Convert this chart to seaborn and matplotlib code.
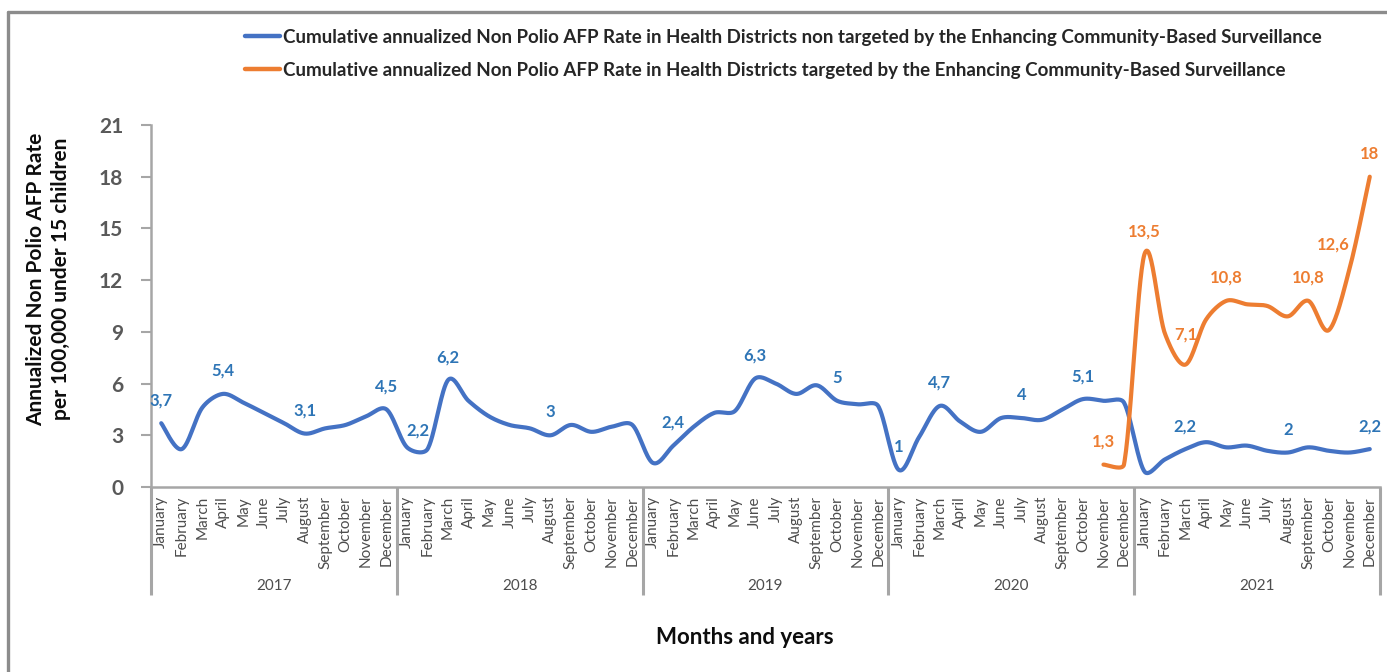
import numpy as np
import pandas as pd
import matplotlib
matplotlib.use("Agg")
import matplotlib.pyplot as plt
from matplotlib.lines import Line2D
import seaborn as sns

# ---------------- data ----------------
years = ["2017", "2018", "2019", "2020", "2021"]
months = ["January", "February", "March", "April", "May", "June", "July",
          "August", "September", "October", "November", "December"]

non_targeted = [
    3.7, 2.2, 4.6, 5.4, 4.9, 4.3, 3.7, 3.1, 3.4, 3.6, 4.1, 4.5,   # 2017
    2.3, 2.2, 6.2, 5.0, 4.1, 3.6, 3.4, 3.0, 3.6, 3.2, 3.5, 3.6,   # 2018
    1.4, 2.4, 3.5, 4.3, 4.4, 6.3, 6.0, 5.4, 5.9, 5.0, 4.8, 4.7,   # 2019
    1.0, 2.9, 4.7, 3.8, 3.2, 4.0, 4.0, 3.9, 4.5, 5.1, 5.0, 4.9,   # 2020
    0.9, 1.6, 2.2, 2.6, 2.3, 2.4, 2.1, 2.0, 2.3, 2.1, 2.0, 2.2,   # 2021
]
targeted = [np.nan] * 46 + [
    1.3, 1.3,                                                      # Nov-Dec 2020
    13.5, 8.9, 7.1, 9.7, 10.8, 10.6, 10.5, 9.9, 10.8, 9.1, 12.6, 18.0,  # 2021
]
non_targeted_labels = [0, 3, 7, 11, 13, 14, 19, 25, 29, 33, 36, 38, 42, 45, 50, 55, 59]
targeted_labels = [46, 48, 50, 52, 56, 58, 59]

series_names = [
    "Cumulative annualized Non Polio AFP Rate in Health Districts non targeted by the Enhancing Community-Based Surveillance",
    "Cumulative annualized Non Polio AFP Rate in Health Districts targeted by the Enhancing Community-Based Surveillance",
]
yticks = [0, 3, 6, 9, 12, 15, 18, 21]

BLUE = "#4472C4"
BLUE_TXT = "#2E75B6"
ORANGE = "#ED7D31"
GRAY = "#A6A6A6"
TXT = "#595959"

W, H = 1387, 672
ax_l, ax_r, ax_t, ax_b = 151, 1380, 125, 487
PX_X = (ax_r - ax_l) / 60.0      # pixels per category
PX_Y = (ax_b - ax_t) / 21.0      # pixels per unit


def smooth(vals, n=30):
    """Excel-like smoothed line (Bezier in pixel space) -- rendering only."""
    v = np.asarray(vals, dtype=float)
    idx = np.where(~np.isnan(v))[0]
    P = np.column_stack([idx * PX_X, v[idx] * PX_Y])
    m = len(P)
    outx, outy = [], []
    for i in range(m - 1):
        p0 = P[i - 1] if i > 0 else P[i]
        p1, p2 = P[i], P[i + 1]
        p3 = P[i + 2] if i + 2 < m else P[i + 1]
        d12 = np.linalg.norm(p2 - p1)
        t1 = (p2 - p0) / 6.0
        t2 = (p3 - p1) / 6.0
        for tv in (t1, t2):
            L = np.linalg.norm(tv)
            cap = d12 / 3.0
            if L > cap:
                tv *= cap / L
        c1 = p1 + t1
        c2 = p2 - t2
        t = np.linspace(0, 1, n, endpoint=(i == m - 2))[:, None]
        B = ((1 - t) ** 3) * p1 + 3 * ((1 - t) ** 2) * t * c1 + 3 * (1 - t) * t ** 2 * c2 + t ** 3 * p2
        outx.append(B[:, 0] / PX_X)
        outy.append(B[:, 1] / PX_Y)
    return np.concatenate(outx), np.concatenate(outy)


frames = []
for name, vals in zip(series_names, [non_targeted, targeted]):
    sx, sy = smooth(vals)
    frames.append(pd.DataFrame({"x": sx, "y": sy, "series": name}))
df = pd.concat(frames, ignore_index=True)

# ---------------- figure ----------------
sns.set_theme(style="white")
plt.rcParams["font.family"] = ["Lato", "DejaVu Sans"]

fig = plt.figure(figsize=(W / 100, H / 100), dpi=100)
ax = fig.add_axes([ax_l / W, 1 - ax_b / H, (ax_r - ax_l) / W, (ax_b - ax_t) / H])

sns.lineplot(data=df, x="x", y="y", hue="series", palette=[BLUE, ORANGE],
             sort=False, estimator=None, linewidth=3.0, legend=False, ax=ax)

ax.set_xlim(-0.5, 59.5)
ax.set_ylim(0, 21)
ax.set_yticks(yticks)
ax.set_yticklabels([str(t) for t in yticks], fontsize=15, fontweight="bold", color=TXT)
ax.tick_params(axis="y", direction="out", length=7, width=1.5, color=GRAY, pad=13, left=True)
ax.set_xticks([])
ax.set_xlabel("")
ax.set_ylabel("")
for s in ["top", "right"]:
    ax.spines[s].set_visible(False)
for s in ["left", "bottom"]:
    ax.spines[s].set_color(GRAY)
    ax.spines[s].set_linewidth(1.8)

# month labels & year separators (multi-level category axis)
xtrans = ax.get_xaxis_transform()
hgt = ax_b - ax_t
sep_bottom = -(595 - ax_b) / hgt
for i in range(60):
    ax.text(i, -(496 - ax_b) / hgt, months[i % 12], transform=xtrans,
            rotation=90, ha="center", va="top", fontsize=11, color="#4D4D4D")
for k in range(6):
    ax.plot([k * 12 - 0.5] * 2, [0, sep_bottom], transform=xtrans, color=GRAY,
            lw=2.2, clip_on=False, solid_capstyle="butt")
for k, yr in enumerate(years):
    ax.text(k * 12 + 5.5, -(586 - ax_b) / hgt, yr, transform=xtrans,
            ha="center", va="center", fontsize=11, color="#4D4D4D")

# data labels
special = {13: (-10, 19), 50 + 100: (0, 30), 58 + 100: (-16, 25)}
for i in non_targeted_labels:
    v = non_targeted[i]
    dx, dy = special.get(i, (0, 23))
    txt = f"{v:g}".replace(".", ",")
    ax.annotate(txt, (i, v), xytext=(dx, dy), textcoords="offset pixels",
                ha="center", va="center", fontsize=12, fontweight="bold",
                color=BLUE_TXT, annotation_clip=False)
for i in targeted_labels:
    v = targeted[i]
    dx, dy = special.get(i + 100, (0, 23))
    txt = f"{v:g}".replace(".", ",")
    ax.annotate(txt, (i, v), xytext=(dx, dy), textcoords="offset pixels",
                ha="center", va="center", fontsize=12, fontweight="bold",
                color=ORANGE, annotation_clip=False)

# legend
handles = [Line2D([], [], color=BLUE, lw=3.2), Line2D([], [], color=ORANGE, lw=3.2)]
fig.legend(handles, series_names, loc="upper left",
           bbox_to_anchor=(245 / W, 1 - 29 / H), frameon=False,
           prop={"weight": "bold", "size": 13.5},
           handlelength=1.87, handletextpad=0.15, labelspacing=0.83, borderpad=0,
           borderaxespad=0, labelcolor="#262626")

# axis titles
fig.text(49 / W, 1 - 279 / H, "Annualized Non Polio AFP Rate\nper 100,000 under 15 children",
         rotation=90, ha="center", va="center", fontsize=15, fontweight="bold",
         color="#0D0D0D", linespacing=1.3)
fig.text(745 / W, 1 - 637 / H, "Months and years", ha="center", va="center",
         fontsize=16, fontweight="bold", color="#0D0D0D")

# outer chart border (partially visible)
fig.add_artist(Line2D([8 / W, 8 / W], [0, 1 - 12 / H], transform=fig.transFigure,
                      color="#8C8C8C", lw=2.4))
fig.add_artist(Line2D([8 / W, 1], [1 - 12 / H, 1 - 12 / H], transform=fig.transFigure,
                      color="#8C8C8C", lw=2.4))

fig.savefig("out.png", dpi=100)
